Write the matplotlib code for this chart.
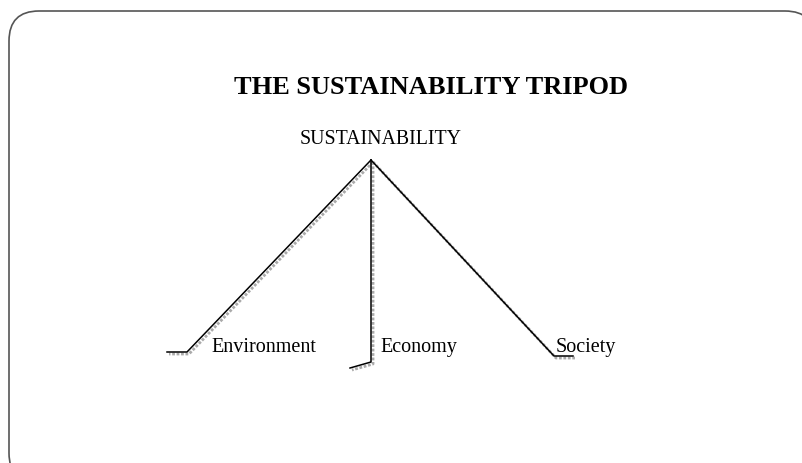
import matplotlib.pyplot as plt
from matplotlib.patches import FancyBboxPatch

title = "THE SUSTAINABILITY TRIPOD"
top_label = "SUSTAINABILITY"
legs = ["Environment", "Economy", "Society"]

# tripod geometry (pixel coords, y down)
apex = (371, 160)
leg_feet = [(187, 352), (371, 362), (554, 356)]
leg_toes = [(167, 352), (350, 368), (573, 356)]
label_pos = [(211, 352), (380, 352), (556, 352)]

fig = plt.figure(figsize=(8.02, 4.63), dpi=100)
ax = fig.add_axes([0, 0, 1, 1])
ax.set_xlim(0, 802)
ax.set_ylim(463, 0)
ax.axis("off")

r = 30
box = FancyBboxPatch((9 + r, 11 + r), 815 - 9 - 2 * r, 483 - 11 - 2 * r,
                     boxstyle=f"round,pad={r}", fc="white", ec="#555555", lw=1.2)
ax.add_patch(box)

for foot, toe in zip(leg_feet, leg_toes):
    xs = [apex[0], foot[0], toe[0]]
    ys = [apex[1], foot[1], toe[1]]
    ax.plot([x + 2 for x in xs], [y + 2 for y in ys], color="#aaaaaa", lw=2.0,
            ls=(0, (1, 0.6)), solid_capstyle="butt")
    ax.plot(xs, ys, color="black", lw=1.1)

ax.text(431, 88, title, ha="center", va="center", fontsize=19,
        fontweight="bold", family="Liberation Serif")
ax.text(381, 140, top_label, ha="center", va="center", fontsize=14.3,
        family="Liberation Serif")
for name, (x, y) in zip(legs, label_pos):
    ax.text(x, y, name, ha="left", va="baseline", fontsize=14.5,
            family="Liberation Serif")

fig.savefig("out.png", dpi=100)
